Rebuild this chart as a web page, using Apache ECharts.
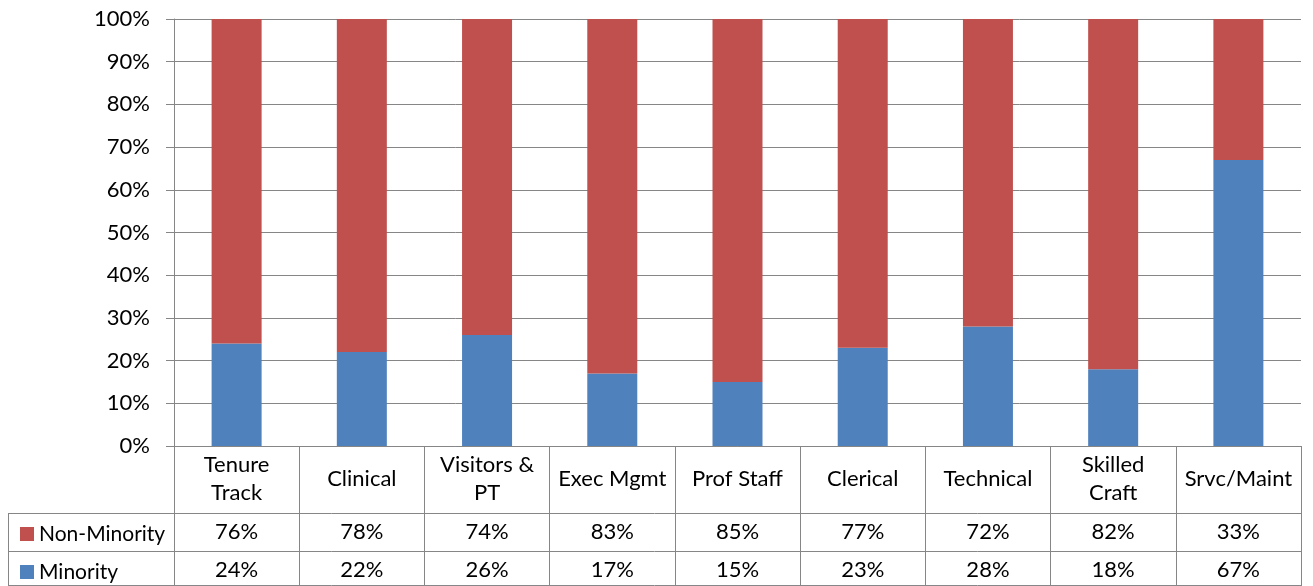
<!DOCTYPE html>
<html>
<head>
<meta charset="utf-8">
<script src="https://cdn.jsdelivr.net/npm/echarts@6/dist/echarts.min.js"></script>
<style>
html,body{margin:0;padding:0;background:#fff;}
#c{width:1313px;height:586px;}
</style>
</head>
<body>
<div id="c"></div>
<script>
const categories = ['Tenure\nTrack','Clinical','Visitors &\nPT','Exec Mgmt','Prof Staff','Clerical','Technical','Skilled\nCraft','Srvc/Maint'];
const nonMinority = [76,78,74,83,85,77,72,82,33];
const minority = [24,22,26,17,15,23,28,18,67];
const yTicks = [0,10,20,30,40,50,60,70,80,90,100];

const FONT = 'Lato';
const FS = 22;
const LFS = 21;
const GRID_L = 174, GRID_R = 12, GRID_T = 19, GRID_B = 140;
const W = 1313, H = 586;
const axisY = H - GRID_B; // 446
const row1 = 513, row2 = 551;
const lineColor = '#868686';

const chart = echarts.init(document.getElementById('c'), null, {renderer:'canvas'});

function hline(x1, x2, y){
  return {type:'line', shape:{x1:x1, y1:y+0.5, x2:x2, y2:y+0.5}, style:{stroke:lineColor, lineWidth:1}, silent:true};
}
function vline(x, y1, y2){
  return {type:'line', shape:{x1:x+0.5, y1:y1, x2:x+0.5, y2:y2}, style:{stroke:lineColor, lineWidth:1}, silent:true};
}

const option = {
  animation:false,
  textStyle:{fontFamily:FONT},
  grid:{left:GRID_L, right:GRID_R, top:GRID_T, bottom:GRID_B, containLabel:false},
  legend:[
    {data:['Non-Minority'], left:15, top:row1 + 19 - 15, orient:'horizontal', icon:'rect', itemWidth:14, itemHeight:14, itemGap:6,
     textStyle:{fontFamily:FONT, fontSize:LFS, color:'#000', lineHeight:24}, selectedMode:false},
    {data:['Minority'], left:15, top:row2 + 19 - 15, orient:'horizontal', icon:'rect', itemWidth:14, itemHeight:14, itemGap:6,
     textStyle:{fontFamily:FONT, fontSize:LFS, color:'#000', lineHeight:24}, selectedMode:false}
  ],
  xAxis:[
    {type:'category', data:categories, gridIndex:0, position:'bottom',
     axisLine:{show:true, lineStyle:{color:lineColor, width:1}},
     axisTick:{show:true, length:H - axisY, lineStyle:{color:lineColor, width:1}, interval:0},
     axisLabel:{interval:0, margin:33, verticalAlign:'middle', fontFamily:FONT, fontSize:FS, color:'#000', lineHeight:28},
     splitLine:{show:false}},
    {type:'category', data:nonMinority.map(v=>v+'%'), gridIndex:0, position:'bottom', offset:(row1 + 19) - axisY,
     axisLine:{show:false}, axisTick:{show:false},
     axisLabel:{interval:0, margin:0, verticalAlign:'middle', fontFamily:FONT, fontSize:FS, color:'#000'}},
    {type:'category', data:minority.map(v=>v+'%'), gridIndex:0, position:'bottom', offset:(row2 + 19) - axisY,
     axisLine:{show:false}, axisTick:{show:false},
     axisLabel:{interval:0, margin:0, verticalAlign:'middle', fontFamily:FONT, fontSize:FS, color:'#000'}}
  ],
  yAxis:{
    type:'value', min:yTicks[0], max:yTicks[yTicks.length-1], interval:yTicks[1]-yTicks[0],
    axisLine:{show:true, lineStyle:{color:lineColor, width:1}},
    axisTick:{show:true, length:8, lineStyle:{color:lineColor, width:1}},
    axisLabel:{formatter:'{value}%', margin:24, fontFamily:FONT, fontSize:FS, color:'#000'},
    splitLine:{show:true, lineStyle:{color:lineColor, width:1}}
  },
  series:[
    {name:'Minority', type:'bar', stack:'total', data:minority, barWidth:50, xAxisIndex:0,
     itemStyle:{color:'#4F81BD'}},
    {name:'Non-Minority', type:'bar', stack:'total', data:nonMinority, barWidth:50, xAxisIndex:0,
     itemStyle:{color:'#C0504D'}}
  ],
  graphic:[
    hline(8, W - GRID_R, row1),
    hline(8, W - GRID_R, row2),
    hline(8, W - GRID_R, H - 1),
    vline(8, row1, H),
    vline(W - GRID_R, axisY, H)
  ]
};
chart.setOption(option);
</script>
</body>
</html>
